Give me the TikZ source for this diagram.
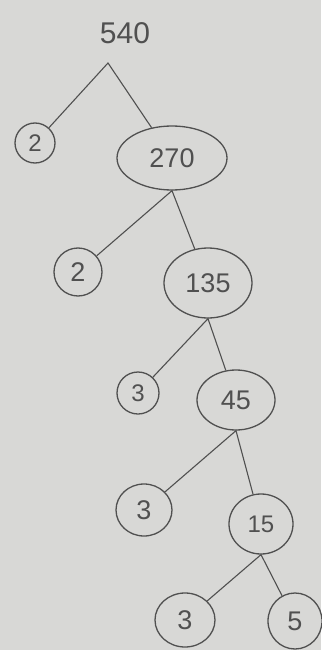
\documentclass[tikz,border=0pt]{standalone}
\usetikzlibrary{shapes.geometric}
\usepackage{fontspec}
\setmainfont{Liberation Sans}
\definecolor{paper}{RGB}{216,216,214}
\definecolor{ink}{RGB}{80,80,80}
\begin{document}
\begin{tikzpicture}[x=1pt,y=-1pt,
  num/.style={ellipse,draw=ink,line width=1.3pt,inner sep=0pt,text=ink,font=\fontsize{27}{27}\selectfont},
  edge/.style={draw=ink,line width=1.1pt}]
\fill[paper] (0,0) rectangle (321,650);
\useasboundingbox (0,0) rectangle (321,650);
\node[text=ink,font=\fontsize{30}{30}\selectfont] (r) at (125,33) {540};
\coordinate (apex) at (108,63);
\node[num,minimum width=40,minimum height=40,font=\fontsize{24}{24}\selectfont] (a1) at (35,143) {2};
\node[num,minimum width=110,minimum height=64] (b1) at (172,158) {270};
\node[num,minimum width=48,minimum height=48] (a2) at (78,272) {2};
\node[num,minimum width=88,minimum height=70] (b2) at (208,283) {135};
\node[num,minimum width=42,minimum height=42,font=\fontsize{24}{24}\selectfont] (a3) at (138,393) {3};
\node[num,minimum width=78,minimum height=60] (b3) at (236,400) {45};
\node[num,minimum width=56,minimum height=52] (a4) at (144,510) {3};
\node[num,minimum width=64,minimum height=60,font=\fontsize{24}{24}\selectfont] (b4) at (261,524) {15};
\node[num,minimum width=60,minimum height=54] (a5) at (185,620) {3};
\node[num,minimum width=54,minimum height=56] (b5) at (295,621) {5};
\draw[edge] (a1) -- (apex) -- (b1);
\draw[edge] (a2) -- (b1.south) -- (b2);
\draw[edge] (a3) -- (b2.south) -- (b3);
\draw[edge] (a4) -- (b3.south) -- (b4);
\draw[edge] (a5) -- (b4.south) -- (b5);
\end{tikzpicture}
\end{document}
